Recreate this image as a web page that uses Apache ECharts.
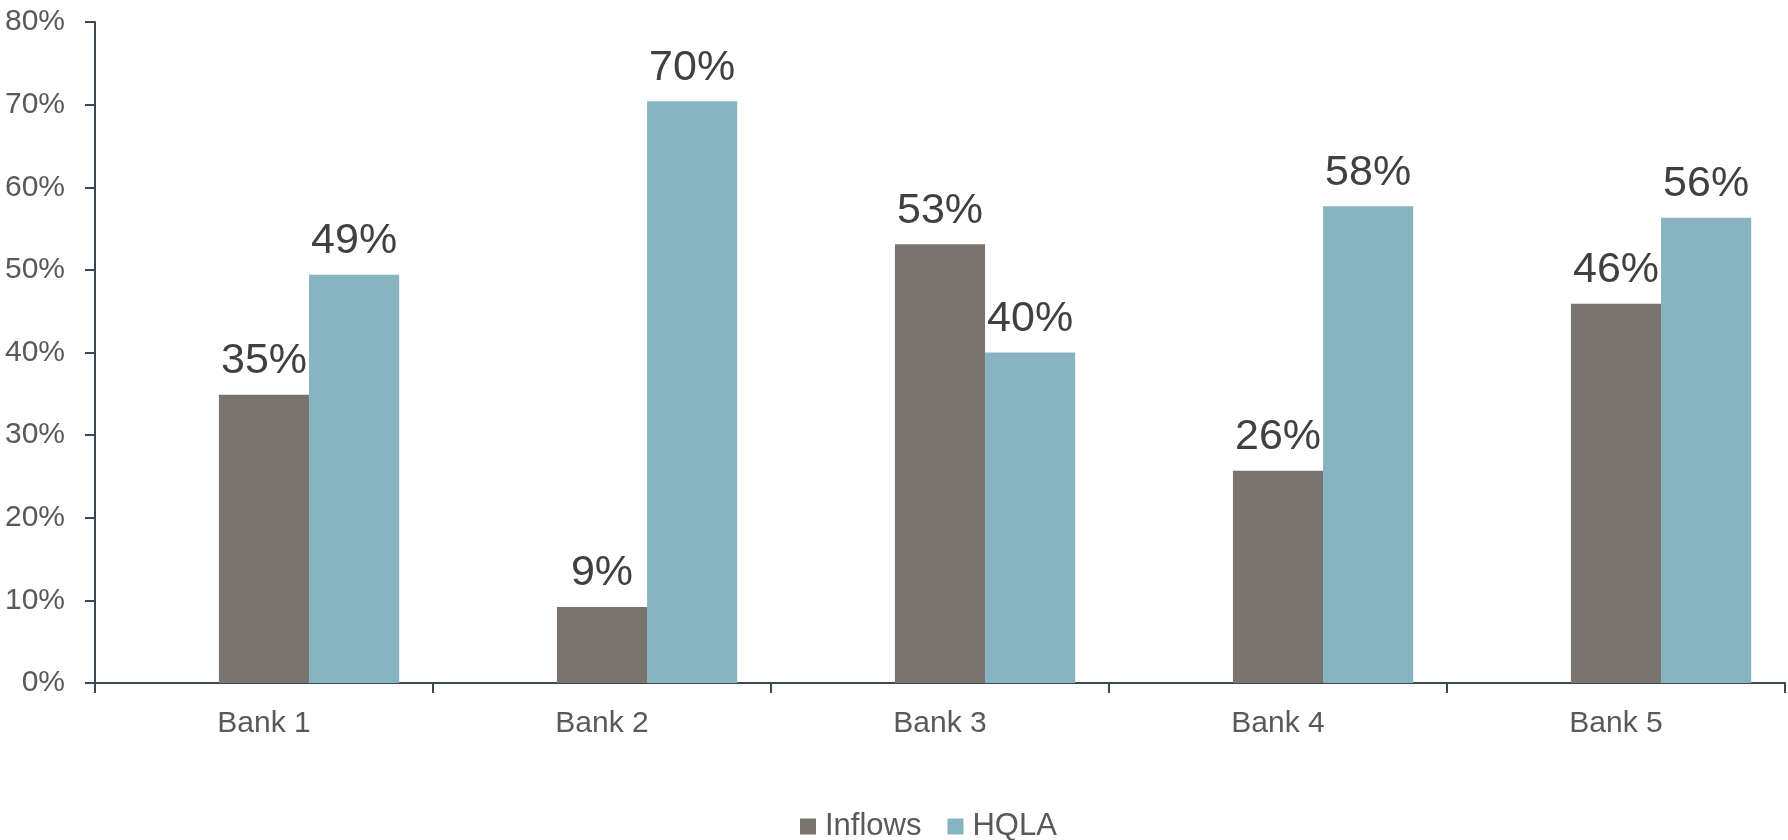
<!DOCTYPE html>
<html>
<head>
<meta charset="utf-8">
<script src="https://cdn.jsdelivr.net/npm/echarts@6/dist/echarts.min.js"></script>
<style>
  html, body { margin: 0; padding: 0; background: #fff; }
  #chart { width: 1788px; height: 840px; }
</style>
</head>
<body>
<div id="chart"></div>
<script>
const categories = ["Bank 1", "Bank 2", "Bank 3", "Bank 4", "Bank 5"];
// values in percent
const inflows = [34.9, 9.2, 53.1, 25.7, 45.9];
const hqla = [49.4, 70.4, 40.0, 57.7, 56.3];
// empty slot in front of the two bars (the original chart leaves one)
const blank = [null, null, null, null, null];
const yTicks = { min: 0, max: 80, interval: 10 };

const font = '"Liberation Sans Narrow", "Arial Narrow", "Liberation Sans", sans-serif';

let chart = echarts.init(document.getElementById("chart"));
chart.setOption({
  animation: false,
  grid: {
    left: 95,
    right: 3,
    top: 22,
    bottom: 157
  },
  legend: {
    data: ["Inflows", "HQLA"],
    left: 795,
    bottom: -7,
    itemWidth: 16,
    itemHeight: 16,
    itemGap: 26,
    icon: "rect",
    textStyle: {
      fontFamily: font,
      fontSize: 31,
      color: "#595959",
      padding: [0, 0, 0, 4]
    }
  },
  xAxis: {
    type: "category",
    data: categories,
    axisLine: { lineStyle: { color: "#3b4a50", width: 2 } },
    axisTick: { show: true, length: 10, lineStyle: { color: "#3b4a50", width: 2 } },
    axisLabel: {
      fontFamily: font,
      fontSize: 30,
      color: "#595959",
      margin: 26
    }
  },
  yAxis: {
    type: "value",
    min: yTicks.min,
    max: yTicks.max,
    interval: yTicks.interval,
    splitLine: { show: false },
    axisLine: { show: true, lineStyle: { color: "#3b4a50", width: 2 } },
    axisTick: { show: true, length: 10, lineStyle: { color: "#3b4a50", width: 2 } },
    axisLabel: {
      fontFamily: font,
      fontSize: 30,
      color: "#595959",
      margin: 30,
      formatter: "{value}%"
    }
  },
  series: [
    {
      name: "blank",
      type: "bar",
      data: blank,
      barGap: 0,
      barCategoryGap: "20%"
    },
    {
      name: "Inflows",
      type: "bar",
      data: inflows,
      barGap: 0,
      itemStyle: { color: "#79746d" },
      label: {
        show: true,
        position: "top",
        distance: 12,
        fontFamily: font,
        fontSize: 43,
        color: "#404040",
        formatter: p => Math.round(p.value) + "%"
      }
    },
    {
      name: "HQLA",
      type: "bar",
      data: hqla,
      barGap: 0,
      itemStyle: { color: "#88b3c1" },
      label: {
        show: true,
        position: "top",
        distance: 12,
        fontFamily: font,
        fontSize: 43,
        color: "#404040",
        formatter: p => Math.round(p.value) + "%"
      }
    }
  ]
});
window.addEventListener("resize", () => {
  chart.resize();
});
</script>
</body>
</html>
